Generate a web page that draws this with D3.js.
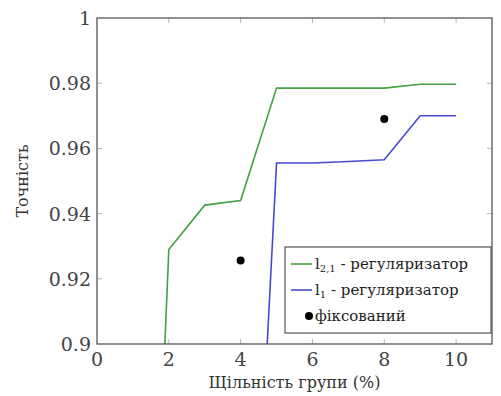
<!DOCTYPE html>
<html>
<head>
<meta charset="utf-8">
<script src="https://cdn.jsdelivr.net/npm/d3@7"></script>
<style>
  body { margin: 0; background: #fff; }
  svg { display: block; }
</style>
</head>
<body>
<div id="chart"></div>
<script>
// density of group (%) and accuracy values
var l21X = [1, 2, 3, 4, 5, 6, 7, 8, 9, 10];
var l21Y = [0.665, 0.929, 0.9426, 0.944, 0.9785, 0.9785, 0.9785, 0.9785, 0.9797, 0.9797];
var l1X = [4, 5, 6, 7, 8, 9, 10];
var l1Y = [0.742, 0.9555, 0.9555, 0.956, 0.9565, 0.970, 0.970];
var fixedX = [4, 8];
var fixedY = [0.9256, 0.969];
var xTicks = [0, 2, 4, 6, 8, 10];
var yTicks = [0.9, 0.92, 0.94, 0.96, 0.98, 1];
var legendLabels = [
  { name: "l", sub: "2,1", rest: " - регуляризатор", type: "line", color: "#43a043" },
  { name: "l", sub: "1", rest: " - регуляризатор", type: "line", color: "#4848d4" },
  { name: "", sub: "", rest: "фіксований", type: "dot", color: "#000" }
];

var width = 501, height = 396;
var margin = { left: 97, right: 9, top: 18, bottom: 52 };
var serif = "'DejaVu Serif'";

var svg = d3.select("#chart").append("svg")
  .attr("width", width)
  .attr("height", height)
  .style("font-family", serif);

var xScale = d3.scaleLinear().domain([0, 11]).range([margin.left, width - margin.right]);
var yScale = d3.scaleLinear().domain([0.9, 1]).range([height - margin.bottom, margin.top]);

var x0 = xScale.range()[0], x1 = xScale.range()[1];
var y0 = yScale.range()[0], y1 = yScale.range()[1];

svg.append("clipPath").attr("id", "plotClip")
  .append("rect")
  .attr("x", x0).attr("y", y1)
  .attr("width", x1 - x0).attr("height", y0 - y1);

// inner ticks on all four sides
var tickLen = 5;
var tickColor = "#b5b5b5";
var ticks = svg.append("g").attr("class", "ticks");
xTicks.filter(function(d) { return d > 0; }).forEach(function(d) {
  ticks.append("line").attr("x1", xScale(d)).attr("x2", xScale(d))
    .attr("y1", y0).attr("y2", y0 - tickLen).attr("stroke", tickColor);
  ticks.append("line").attr("x1", xScale(d)).attr("x2", xScale(d))
    .attr("y1", y1).attr("y2", y1 + tickLen).attr("stroke", tickColor);
});
yTicks.filter(function(d) { return d > 0.9 && d < 1; }).forEach(function(d) {
  ticks.append("line").attr("x1", x0).attr("x2", x0 + tickLen)
    .attr("y1", yScale(d)).attr("y2", yScale(d)).attr("stroke", tickColor);
  ticks.append("line").attr("x1", x1).attr("x2", x1 - tickLen)
    .attr("y1", yScale(d)).attr("y2", yScale(d)).attr("stroke", tickColor);
});

// tick labels
svg.append("g").selectAll("text")
  .data(xTicks)
  .enter().append("text")
  .attr("x", function(d) { return xScale(d); })
  .attr("y", y0 + 22)
  .attr("text-anchor", "middle")
  .attr("font-size", 19)
  .attr("fill", "#444")
  .text(function(d) { return d; });

svg.append("g").selectAll("text")
  .data(yTicks)
  .enter().append("text")
  .attr("x", x0 - 6)
  .attr("y", function(d) { return yScale(d) + 7; })
  .attr("text-anchor", "end")
  .attr("font-size", 19)
  .attr("fill", "#444")
  .text(function(d) { return d; });

// data lines
var line = d3.line()
  .x(function(d) { return xScale(d[0]); })
  .y(function(d) { return yScale(d[1]); });

var plot = svg.append("g").attr("clip-path", "url(#plotClip)");

plot.append("path")
  .datum(d3.zip(l21X, l21Y))
  .attr("d", line)
  .attr("fill", "none")
  .attr("stroke", legendLabels[0].color)
  .attr("stroke-width", 1.6);

plot.append("path")
  .datum(d3.zip(l1X, l1Y))
  .attr("d", line)
  .attr("fill", "none")
  .attr("stroke", legendLabels[1].color)
  .attr("stroke-width", 1.6);

plot.selectAll("circle")
  .data(d3.zip(fixedX, fixedY))
  .enter().append("circle")
  .attr("cx", function(d) { return xScale(d[0]); })
  .attr("cy", function(d) { return yScale(d[1]); })
  .attr("r", 4)
  .attr("fill", "#000");

// frame
svg.append("rect")
  .attr("x", x0).attr("y", y1)
  .attr("width", x1 - x0).attr("height", y0 - y1)
  .attr("fill", "none")
  .attr("stroke", "#555")
  .attr("stroke-width", 1.3);

// axis titles
svg.append("text")
  .attr("x", (x0 + x1) / 2)
  .attr("y", height - 8)
  .attr("text-anchor", "middle")
  .attr("font-size", 16)
  .attr("fill", "#333")
  .text("Щільність групи (%)");

svg.append("text")
  .attr("transform", "translate(28," + ((y0 + y1) / 2) + ") rotate(-90)")
  .attr("text-anchor", "middle")
  .attr("font-size", 16)
  .attr("fill", "#333")
  .text("Точність");

// legend
var legend = svg.append("g").attr("transform", "translate(285,247)");
legend.append("rect")
  .attr("width", 206).attr("height", 86)
  .attr("fill", "#fff")
  .attr("stroke", "#555")
  .attr("stroke-width", 1.2);

legendLabels.forEach(function(d, i) {
  var cy = 17 + i * 26;
  if (d.type == "line") {
    legend.append("line")
      .attr("x1", 6).attr("x2", 27)
      .attr("y1", cy).attr("y2", cy)
      .attr("stroke", d.color)
      .attr("stroke-width", 1.6);
  } else {
    legend.append("circle")
      .attr("cx", 24).attr("cy", cy)
      .attr("r", 4)
      .attr("fill", d.color);
  }
  var t = legend.append("text")
    .attr("x", 30)
    .attr("y", cy + 5)
    .attr("font-size", 15)
    .attr("fill", "#222");
  if (d.name) t.append("tspan").text(d.name);
  if (d.sub) t.append("tspan").attr("font-size", 10).attr("dy", 3).text(d.sub);
  t.append("tspan").attr("dy", d.sub ? -3 : 0).text(d.rest);
});
</script>
</body>
</html>
